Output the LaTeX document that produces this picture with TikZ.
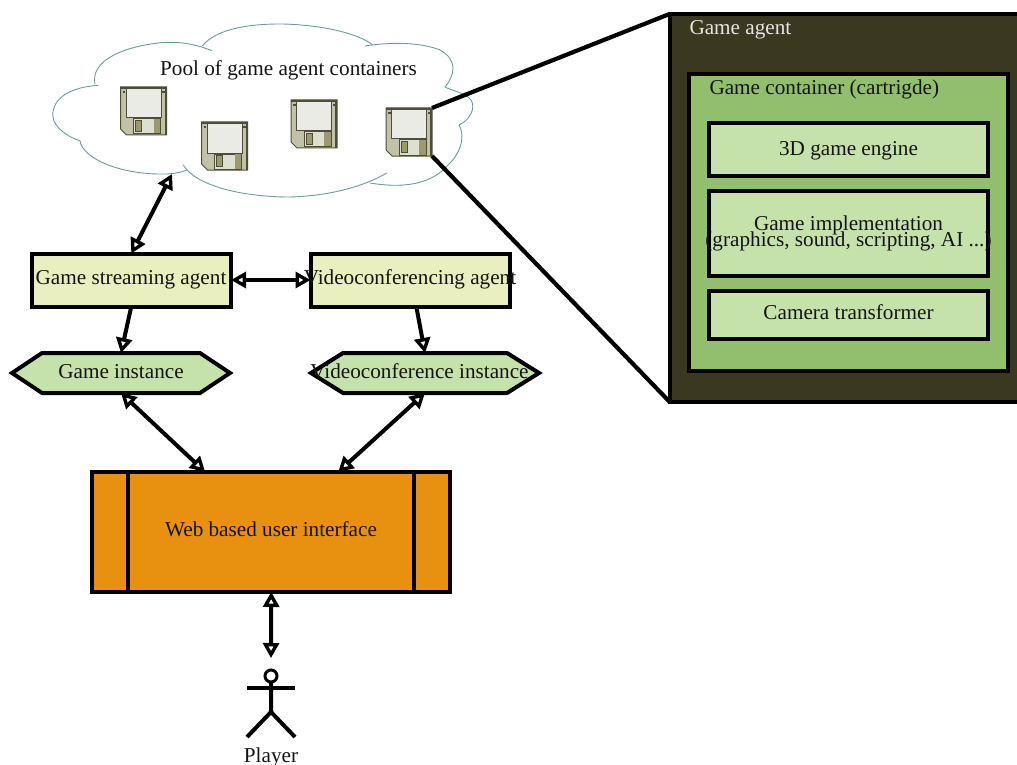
\documentclass[tikz,border=0pt]{standalone}
\usepackage{fontspec}
\setmainfont{Liberation Serif}
\usetikzlibrary{arrows.meta,calc}
\definecolor{cdark}{HTML}{3A3820}
\definecolor{cmid}{HTML}{92BF6E}
\definecolor{clight}{HTML}{C6E2AB}
\definecolor{cyel}{HTML}{E9EFBF}
\definecolor{corange}{HTML}{E8900F}
\definecolor{cteal}{HTML}{6F9A9F}
\definecolor{dbody}{HTML}{C2C2A8}
\definecolor{dedge}{HTML}{4E4E38}
\definecolor{dlabel}{HTML}{EAEBE5}
\definecolor{dshut}{HTML}{DDDFCF}
\definecolor{dslot}{HTML}{9A9A6E}
\tikzset{
  x=1pt,y=-1pt,
  every node/.style={font=\fontsize{21.2}{24}\selectfont,text=black!92,inner sep=0pt,outer sep=0pt,align=center},
  txt/.style={anchor=base},
  txtl/.style={anchor=base west},
  box/.style={draw=black,line width=4pt,minimum width=#1},
  conn/.style={line width=4pt,{Triangle[open,fill=white,length=15pt,width=16pt,line width=3.4pt]}-{Triangle[open,fill=white,length=15pt,width=16pt,line width=3.4pt]}},
  connone/.style={line width=4pt,-{Triangle[open,fill=white,length=15pt,width=16pt,line width=3.4pt]}},
  zoomline/.style={line width=4.2pt},
  lobe/.style={draw=cteal,line width=0.9pt},
  hexa/.style={draw=black,line width=4pt,fill=clight,line join=miter},
  man/.style={line width=4pt},
  floppy/.pic={
    \fill[dbody,draw=dedge,line width=1pt] (0,0)--(46,0)--(46,48)--(6,48)--(0,42)--cycle;
    \fill[dedge] (44.2,0) rectangle (46,48);
    \fill[dedge] (0,0) rectangle (46,1.6);
    \fill[dlabel,draw=dedge,line width=1pt] (5.5,2) rectangle (40.5,31);
    \fill[dshut,draw=dedge,line width=1pt] (13,32) rectangle (40,47);
    \fill[dslot,draw=dedge,line width=0.8pt] (15,33.5) rectangle (21,44.5);
    \fill[dslot] (33,32) rectangle (39.5,46.5);
    \fill[dedge] (2,4) rectangle (4.5,6.5);
    \fill[dedge] (41.5,4) rectangle (44,6.5);
  }
}
\begin{document}
\begin{tikzpicture}
\useasboundingbox (0,0) rectangle (1017,765);
% cloud
\draw[lobe] (98.3,85.3) .. controls (60,88) and (52.7,105) .. (52.7,115) .. controls (53,128) and (70,138) .. (80,140.7);
\draw[lobe] (80,140.7) .. controls (82,158) and (120,175) .. (165,174) .. controls (170,174) and (180,173) .. (186.7,170);
\draw[lobe] (183.3,165) .. controls (195,185) and (240,197) .. (290,197) .. controls (330,196) and (365,186) .. (386.7,173);
\draw[lobe] (370,183) .. controls (400,188) and (430,186) .. (448,165) .. controls (462,152) and (465,135) .. (459,125);
\draw[lobe] (459,125) .. controls (470,120) and (476,108) .. (471,100) .. controls (466,93) and (450,90) .. (445,87);
\draw[lobe] (445,87) .. controls (455,75) and (458,60) .. (440,50) .. controls (420,42) and (390,42) .. (365,46);
\draw[lobe] (373,45) .. controls (350,28) and (300,24) .. (280,24) .. controls (245,24) and (215,30) .. (202.3,46);
\draw[lobe] (212,50.7) .. controls (190,42) and (175,42) .. (163,42.5) .. controls (125,46) and (90,60) .. (95,84);
\node[txt] (pool) at (288.5,76) {Pool of game agent containers};
\coordinate (cloudport) at (172,174);
% disks
\pic at (120.5,87) {floppy};
\pic at (201.5,122) {floppy};
\pic at (291,100) {floppy};
\pic at (386,108) {floppy};
\node[minimum width=46pt,minimum height=48pt] (disk) at (409,132) {};
% agent panel
\node[draw=black,line width=4pt,fill=cdark,minimum width=360pt,minimum height=387.7pt] (agent) at (849.5,207.85) {};
\node[txtl,text=white!90!black] (agenttitle) at (689.5,34.3) {Game agent};
\node[draw=black,line width=4pt,fill=cmid,minimum width=319pt,minimum height=296.7pt] (container) at (848.6,222.5) {};
\node[txtl] (contitle) at (709.5,94.3) {Game container (cartrigde)};
\node[box=279pt,fill=clight,minimum height=52pt] (engine) at (848.6,149.5) {};
\node[txt] at (848.5,155) {3D game engine};
\node[box=279pt,fill=clight,minimum height=85.3pt] (impl) at (848.6,233.8) {};
\node[txt] at (848.5,230) {Game implementation};
\node[txt] at (848.5,246.7) {(graphics, sound, scripting, AI ...)};
\node[box=279pt,fill=clight,minimum height=48pt] (camera) at (848.6,315.2) {};
\node[txt] at (848.5,319.3) {Camera transformer};
\draw[zoomline] (disk.north east) -- (agent.north west);
\draw[zoomline] (disk.south east) -- (agent.south west);
% agents
\node[box=199.5pt,fill=cyel,minimum height=53pt] (gsa) at (131.3,280) {};
\node[txt] at (131,284.3) {Game streaming agent};
\node[box=199.5pt,fill=cyel,minimum height=53pt] (vca) at (410.3,280) {};
\node[txt] at (410,284.3) {Videoconferencing agent};
% hexagons
\draw[hexa] (12,373)--(42,353)--(200,353)--(230,373)--(200,393)--(42,393)--cycle;
\node[minimum width=220pt,minimum height=40pt] (ginst) at (121,373) {};
\node[txt] at (121,378) {Game instance};
\draw[hexa] (311,373)--(343,353)--(507,353)--(539,373)--(507,393)--(343,393)--cycle;
\node[minimum width=228pt,minimum height=40pt] (vinst) at (425,373) {};
\node[txt] at (419.5,378) {Videoconference instance};
% web
\node[box=358.5pt,fill=corange,minimum height=120pt] (web) at (271.2,532) {};
\node[txt] at (271,536) {Web based user interface};
\draw[line width=4pt] ($(web.north west)+(36,0)$) -- ($(web.south west)+(36,0)$);
\draw[line width=4pt] ($(web.north east)+(-36,0)$) -- ($(web.south east)+(-36,0)$);
% player
\node[draw=black,line width=3pt,circle,minimum size=12pt] (head) at (271,676) {};
\draw[man] (head.south) -- (271,712) -- (247,737);
\draw[man] (271,712) -- (295,737);
\draw[man] (247,688) -- (295,688);
\node[txt] (player) at (271,762) {Player};
\coordinate (playerport) at (271,658);
% connectors
\draw[conn] (cloudport) -- (gsa.north);
\draw[conn] (gsa.east) -- (vca.west);
\draw[connone] (gsa.south) -- (ginst.north);
\draw[connone] ($(vca.south)+(6,0)$) -- (vinst.north);
\draw[conn] (ginst.south) -- ($(web.north)+(-66,0)$);
\draw[conn] (vinst.south) -- ($(web.north)+(67,0)$);
\draw[conn] (web.south) -- (playerport);
\end{tikzpicture}
\end{document}
